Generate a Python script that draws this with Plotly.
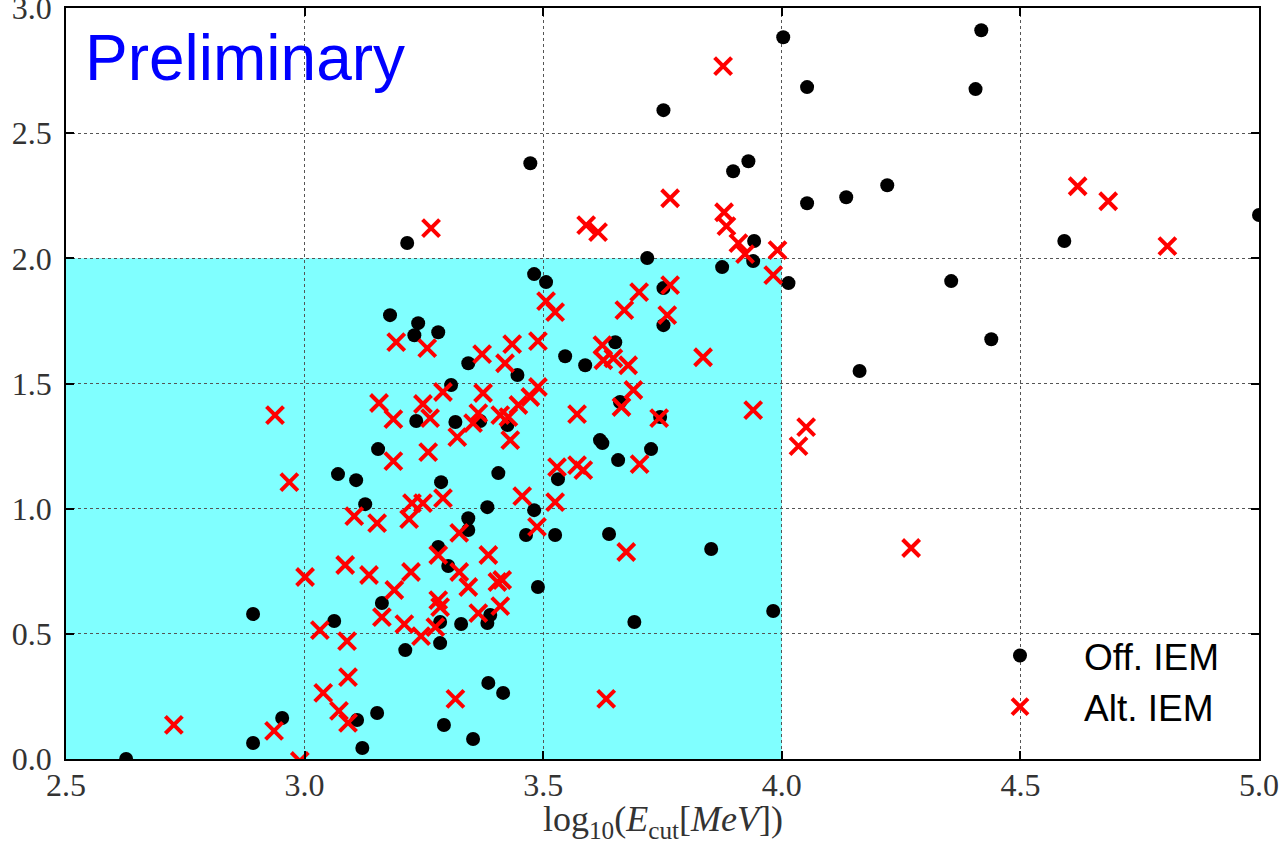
import plotly.graph_objects as go

# Off. IEM (black dots)
off_x = [2.626, 2.892, 2.892, 2.953, 3.062, 3.070, 3.108, 3.127, 3.110, 3.121,
         3.152, 3.154, 3.162, 3.179, 3.211, 3.215, 3.230, 3.238, 3.234, 3.280,
         3.280, 3.284, 3.286, 3.284, 3.292, 3.301, 3.307, 3.316, 3.328, 3.343,
         3.343, 3.343, 3.353, 3.368, 3.383, 3.385, 3.389, 3.383, 3.406, 3.416,
         3.425, 3.446, 3.464, 3.473, 3.481, 3.481, 3.489, 3.506, 3.525, 3.531,
         3.546, 3.588, 3.624, 3.619, 3.638, 3.651, 3.657, 3.661, 3.691, 3.718,
         3.726, 3.752, 3.752, 3.752, 3.745, 3.852, 3.875, 3.898, 3.930, 3.942,
         3.940, 3.982, 4.003, 4.014, 4.053, 4.053, 4.135, 4.163, 4.221, 4.355,
         4.406, 4.418, 4.439, 4.592, 5.000]
off_y = [0.000, 0.579, 0.064, 0.164, 0.551, 1.138, 1.114, 1.018, 0.156, 0.044,
         0.184, 1.238, 0.623, 1.773, 0.435, 2.061, 1.693, 1.741, 1.350, 1.705,
         0.847, 0.463, 1.106, 0.547, 0.136, 0.771, 1.494, 1.346, 0.539, 0.915,
         0.962, 1.581, 0.080, 1.350, 1.006, 0.304, 0.575, 0.543, 1.142, 0.264,
         1.334, 1.534, 0.895, 2.380, 1.937, 0.994, 0.687, 1.905, 0.895, 1.118,
         1.609, 1.573, 1.262, 1.274, 0.899, 1.665, 1.194, 1.426, 0.547, 2.001,
         1.238, 1.881, 2.592, 1.733, 1.366, 0.839, 1.965, 2.348, 2.388, 2.069,
         1.989, 0.591, 2.883, 1.901, 2.684, 2.220, 2.244, 1.550, 2.292, 1.909,
         2.676, 2.911, 1.677, 2.069, 2.173]

# Alt. IEM (red crosses)
alt_x = [2.726, 2.936, 2.938, 2.968, 3.001, 2.990, 3.032, 3.039, 3.085, 3.089,
         3.091, 3.072, 3.091, 3.104, 3.135, 3.152, 3.156, 3.162, 3.186, 3.186,
         3.188, 3.192, 3.209, 3.219, 3.223, 3.225, 3.244, 3.248, 3.248, 3.257,
         3.259, 3.263, 3.265, 3.274, 3.280, 3.280, 3.284, 3.290, 3.290, 3.316,
         3.320, 3.324, 3.324, 3.343, 3.364, 3.353, 3.364, 3.372, 3.374, 3.385,
         3.404, 3.414, 3.410, 3.410, 3.420, 3.427, 3.431, 3.435, 3.448, 3.456,
         3.473, 3.487, 3.489, 3.489, 3.506, 3.525, 3.525, 3.529, 3.571, 3.571,
         3.584, 3.590, 3.615, 3.624, 3.626, 3.647, 3.632, 3.670, 3.674, 3.678,
         3.664, 3.689, 3.701, 3.702, 3.743, 3.760, 3.766, 3.766, 3.835, 3.877,
         3.879, 3.884, 3.909, 3.923, 3.940, 3.991, 3.982, 4.035, 4.051, 4.271,
         4.620, 4.684, 4.808]
alt_y = [0.136, 0.112, 1.374, 1.106, 0.727, -0.008, 0.515, 0.264, 0.775, 0.471,
         0.327, 0.192, 0.144, 0.970, 0.735, 0.942, 1.422, 0.567, 1.358, 1.190,
         0.675, 1.665, 0.539, 0.958, 0.747, 1.022, 0.491, 1.022, 1.418, 1.641,
         1.226, 1.362, 2.121, 0.527, 0.815, 0.635, 0.607, 1.466, 1.042, 0.240,
         1.286, 0.903, 0.747, 0.687, 1.382, 1.342, 0.583, 1.617, 1.462, 0.815,
         0.707, 0.715, 1.374, 0.611, 1.581, 1.366, 1.274, 1.657, 1.414, 1.050,
         1.446, 0.927, 1.669, 1.486, 1.829, 1.785, 1.026, 1.166, 1.378, 1.174,
         1.154, 2.133, 2.105, 1.653, 1.593, 1.601, 0.240, 1.793, 0.827, 1.573,
         1.406, 1.474, 1.865, 1.178, 1.362, 1.773, 1.893, 2.240, 1.605, 2.768,
         2.184, 2.129, 2.061, 2.017, 1.394, 2.033, 1.933, 1.250, 1.326, 0.843,
         2.288, 2.228, 2.049]

x_ticks = [2.5, 3.0, 3.5, 4.0, 4.5, 5.0]
x_tick_labels = ["2.5", "3.0", "3.5", "4.0", "4.5", "5.0"]
y_ticks = [0.0, 0.5, 1.0, 1.5, 2.0, 2.5, 3.0]
y_tick_labels = ["0.0", "0.5", "1.0", "1.5", "2.0", "2.5", "3.0"]

region_x = [2.5, 4.0]
region_y = [0.0, 2.0]

x_title = "log<sub>10</sub>(<i>E</i><sub>cut</sub>[<i>MeV</i>])"

serif = "Liberation Serif"
sans = "Liberation Sans"

fig = go.Figure()
fig.add_trace(go.Scatter(
    x=off_x, y=off_y, mode="markers", name="Off. IEM",
    marker=dict(symbol="circle", size=14, color="black", line=dict(width=0)),
))
fig.add_trace(go.Scatter(
    x=alt_x, y=alt_y, mode="markers", name="Alt. IEM",
    marker=dict(symbol="x-thin", size=17, color="red",
                line=dict(width=4, color="red")),
))

fig.add_shape(type="rect", xref="x", yref="y",
              x0=region_x[0], x1=region_x[1], y0=region_y[0], y1=region_y[1],
              fillcolor="#80FFFF", line=dict(width=0), layer="below")

fig.add_annotation(text="Preliminary", xref="paper", yref="paper",
                   x=0.0145, y=0.934, xanchor="left", yanchor="middle",
                   showarrow=False,
                   font=dict(family=sans, size=64, color="blue"))

fig.add_annotation(text=x_title, xref="paper", yref="paper",
                   x=0.5, y=-0.083, xanchor="center", yanchor="middle",
                   showarrow=False,
                   font=dict(family=serif, size=36, color="#333333"))

axis_common = dict(
    showline=True, linecolor="black", linewidth=1.5, mirror="ticks",
    ticks="inside", ticklen=8, tickwidth=1.5, tickcolor="black",
    showgrid=True, gridcolor="#555555", gridwidth=1, griddash="dot",
    zeroline=False, automargin=False, ticklabeloverflow="allow",
    tickfont=dict(family=serif, size=32, color="#333333"),
)

fig.update_xaxes(range=[2.5, 5.0], tickvals=x_ticks, ticktext=x_tick_labels,
                 ticklabelstandoff=-3, **axis_common)
fig.update_yaxes(range=[0.0, 3.0], tickvals=y_ticks, ticktext=y_tick_labels,
                 ticklabelstandoff=6, **axis_common)

fig.update_layout(
    width=1279, height=846,
    margin=dict(l=66, r=20, t=8, b=87),
    plot_bgcolor="white", paper_bgcolor="white",
    showlegend=True,
    legend=dict(x=0.9715, y=0.028, xanchor="right", yanchor="bottom",
                bgcolor="rgba(0,0,0,0)", borderwidth=0,
                font=dict(family=sans, size=37, color="black"),
                itemwidth=118, tracegroupgap=0),
)

fig.write_html("out.html", config={"displayModeBar": False},
               post_script="document.body.style.margin='0';")
